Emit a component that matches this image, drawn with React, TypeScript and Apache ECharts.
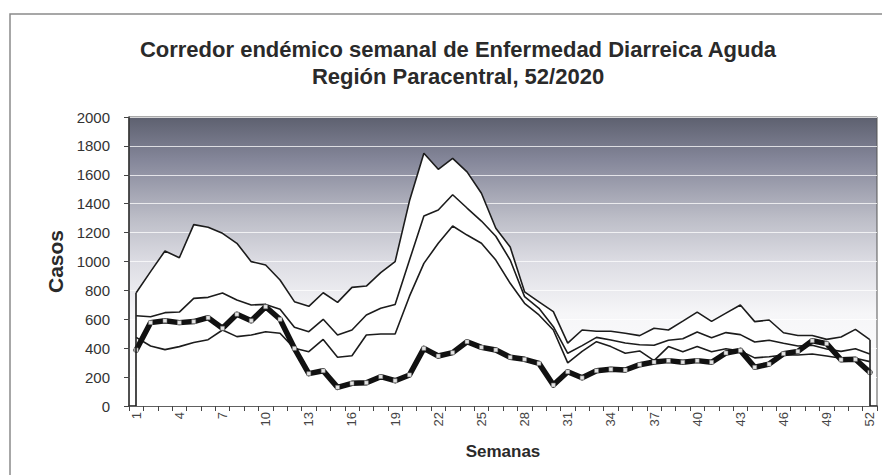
import React, { useEffect, useRef } from "react";
import * as echarts from "echarts";

const weeks = ["1","2","3","4","5","6","7","8","9","10","11","12","13","14","15","16","17","18","19","20","21","22","23","24","25","26","27","28","29","30","31","32","33","34","35","36","37","38","39","40","41","42","43","44","45","46","47","48","49","50","51","52"];

const epidemica = [784, 930, 1073, 1026, 1255, 1237, 1195, 1126, 999, 976, 872, 722, 690, 784, 717, 821, 830, 923, 999, 1420, 1749, 1638, 1714, 1620, 1472, 1230, 1100, 790, 720, 653, 435, 526, 517, 517, 503, 487, 538, 526, 587, 650, 586, 643, 699, 584, 595, 507, 488, 488, 461, 478, 530, 459];

const alerta = [625, 618, 646, 650, 745, 752, 782, 734, 699, 703, 670, 545, 514, 600, 491, 526, 630, 676, 703, 1010, 1315, 1356, 1462, 1370, 1280, 1175, 1010, 757, 676, 549, 365, 418, 475, 457, 436, 424, 420, 455, 465, 512, 472, 508, 494, 443, 455, 434, 415, 420, 395, 378, 396, 360];

const seguridad = [475, 415, 390, 411, 440, 459, 526, 480, 491, 514, 503, 399, 376, 461, 337, 348, 491, 498, 498, 760, 987, 1126, 1246, 1183, 1126, 1010, 849, 711, 630, 526, 298, 378, 445, 411, 365, 381, 314, 411, 376, 411, 376, 396, 381, 333, 341, 353, 353, 360, 346, 330, 330, 307];

const casos2020 = [388, 577, 590, 577, 584, 611, 538, 635, 590, 687, 600, 399, 224, 244, 129, 157, 161, 203, 175, 215, 399, 346, 369, 445, 406, 388, 337, 323, 295, 145, 237, 195, 244, 254, 249, 286, 304, 314, 303, 314, 303, 367, 385, 268, 290, 362, 378, 452, 432, 320, 323, 233];

const yTicks = { min: 0, max: 2000, interval: 200 };

const FONT = "'Liberation Sans', Arial, sans-serif";

export default function App() {
  const ref = useRef<HTMLDivElement>(null);
  useEffect(() => {
    document.body.style.margin = "0";
    const chart = echarts.init(ref.current!, null, { renderer: "svg" });
    const thin = { color: "#1c1c1c", width: 1.6 };
    chart.setOption({
      animation: false,
      backgroundColor: "#ffffff",
      title: {
        text: "Corredor endémico semanal de Enfermedad Diarreica Aguda\nRegión Paracentral, 52/2020",
        left: 453,
        top: 31,
        textAlign: "center",
        textStyle: {
          fontFamily: FONT,
          fontSize: 22,
          fontWeight: "bold",
          color: "#2a2a2a",
          lineHeight: 27,
        },
      },
      graphic: [
        {
          type: "rect",
          shape: { x: 10, y: 14, width: 880, height: 470 },
          style: { fill: "none", stroke: "#8a8a8a", lineWidth: 1.5 },
          silent: true,
        },
      ],
      grid: {
        left: 129,
        right: 5,
        top: 117,
        bottom: 69,
        show: true,
        borderColor: "#555",
        borderWidth: 1,
        backgroundColor: new echarts.graphic.LinearGradient(0, 0, 0, 1, [
          { offset: 0, color: "#5d606f" },
          { offset: 0.15, color: "#85879a" },
          { offset: 0.35, color: "#bcbdc7" },
          { offset: 0.5, color: "#dcdce3" },
          { offset: 0.68, color: "#f6f6f8" },
          { offset: 1, color: "#ffffff" },
        ]),
      },
      xAxis: {
        type: "category",
        data: weeks,
        boundaryGap: true,
        name: "Semanas",
        nameLocation: "middle",
        nameGap: 37,
        nameTextStyle: { fontFamily: FONT, fontSize: 17, fontWeight: "bold", color: "#2a2a2a" },
        axisLine: { lineStyle: { color: "#333", width: 1.5 } },
        axisTick: { show: true, interval: 0, length: 5, lineStyle: { color: "#444" } },
        axisLabel: { interval: 2, rotate: 90, fontFamily: FONT, fontSize: 13, color: "#444", margin: 6 },
        splitLine: { show: false },
      },
      yAxis: {
        type: "value",
        min: yTicks.min,
        max: yTicks.max,
        interval: yTicks.interval,
        name: "Casos",
        nameLocation: "middle",
        nameGap: 58,
        nameTextStyle: { fontFamily: FONT, fontSize: 21, fontWeight: "bold", color: "#2a2a2a" },
        axisLine: { show: true, lineStyle: { color: "#333", width: 1.5 } },
        axisTick: { show: true, length: 5, lineStyle: { color: "#444" } },
        axisLabel: { fontFamily: FONT, fontSize: 15, color: "#333", margin: 19, formatter: (v: number) => String(v) },
        splitLine: { show: true, lineStyle: { color: "rgba(255,255,255,0.75)", width: 1 } },
      },
      series: [
        {
          name: "Epidemia",
          type: "line",
          data: epidemica,
          symbol: "none",
          lineStyle: thin,
          areaStyle: { color: "#ffffff", opacity: 1, origin: "start" },
          z: 2,
          markLine: {
            silent: true,
            symbol: "none",
            label: { show: false },
            lineStyle: { color: "#1c1c1c", width: 1.6, type: "solid" },
            data: [
              [{ coord: [0, 0] }, { coord: [0, epidemica[0]] }],
              [{ coord: [51, 0] }, { coord: [51, epidemica[51]] }],
            ],
          },
        },
        { name: "Alerta", type: "line", data: alerta, symbol: "none", lineStyle: thin, z: 3 },
        { name: "Seguridad", type: "line", data: seguridad, symbol: "none", lineStyle: thin, z: 3 },
        {
          name: "2020",
          type: "line",
          data: casos2020,
          symbol: "rect",
          symbolSize: 4,
          showSymbol: true,
          itemStyle: { color: "#e4e4e4", borderColor: "#777", borderWidth: 0.5 },
          lineStyle: { color: "#111", width: 5.5, join: "round", cap: "round" },
          z: 4,
        },
      ],
    });
    return () => chart.dispose();
  }, []);
  return <div ref={ref} style={{ width: 882, height: 475 }} />;
}
